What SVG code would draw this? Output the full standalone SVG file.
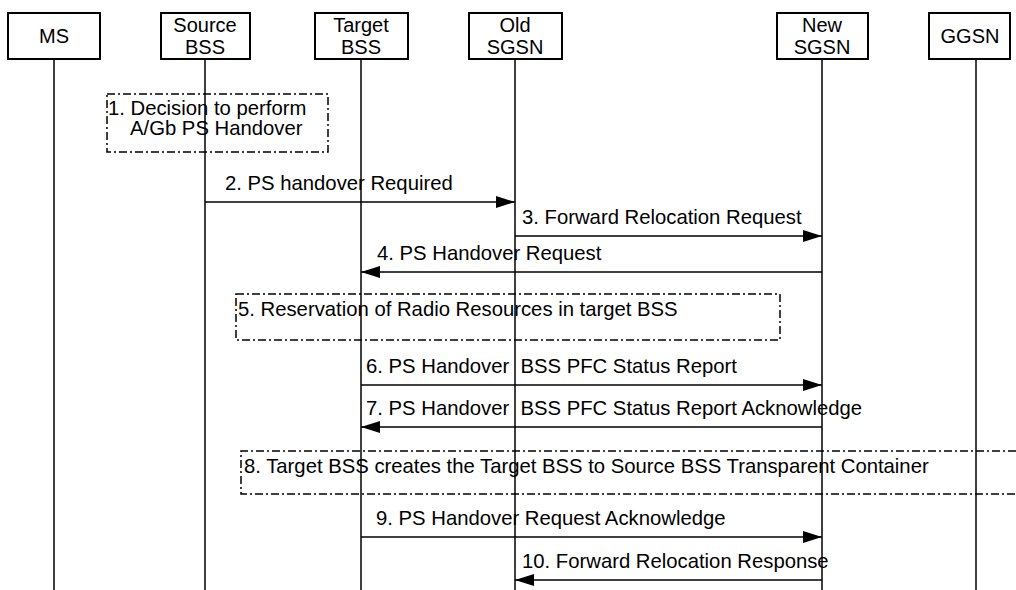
<svg xmlns="http://www.w3.org/2000/svg" width="1016" height="590" viewBox="0 0 1016 590">
<style>
text{font-family:"Liberation Sans",Arial,sans-serif;font-size:20.3px;fill:#000}
.hd{text-anchor:middle;font-size:20px}
.box{fill:#fff;stroke:#000;stroke-width:2}
.life{stroke:#000;stroke-width:1.5}
.msg{stroke:#000;stroke-width:1.5;fill:none;marker-end:url(#ah)}
.note{fill:none;stroke:#000;stroke-width:1.5;stroke-dasharray:8 3 2 3}
</style>
<defs>
<marker id="ah" viewBox="0 0 19 12" refX="19" refY="6" markerWidth="19" markerHeight="12" markerUnits="userSpaceOnUse" orient="auto">
<path d="M0,0 L19,6 L0,12 Z" fill="#000"/>
</marker>
</defs>
<g id="lifelines">
<line class="life" x1="54" y1="59" x2="54" y2="590"/>
<line class="life" x1="205" y1="59" x2="205" y2="590"/>
<line class="life" x1="361" y1="59" x2="361" y2="590"/>
<line class="life" x1="515" y1="59" x2="515" y2="590"/>
<line class="life" x1="822" y1="59" x2="822" y2="590"/>
<line class="life" x1="976" y1="59" x2="976" y2="590"/>
</g>
<g id="MS"><rect class="box" x="8" y="13" width="92" height="46"/><text class="hd" x="54" y="43">MS</text></g>
<g id="SourceBSS"><rect class="box" x="161" y="13" width="89" height="46"/><text class="hd" x="205" y="32">Source</text><text class="hd" x="205" y="54">BSS</text></g>
<g id="TargetBSS"><rect class="box" x="315" y="13" width="93" height="46"/><text class="hd" x="361" y="32">Target</text><text class="hd" x="361" y="54">BSS</text></g>
<g id="OldSGSN"><rect class="box" x="469" y="13" width="93" height="46"/><text class="hd" x="515" y="32">Old</text><text class="hd" x="515" y="54">SGSN</text></g>
<g id="NewSGSN"><rect class="box" x="777" y="13" width="91" height="46"/><text class="hd" x="822" y="32">New</text><text class="hd" x="822" y="54">SGSN</text></g>
<g id="GGSN"><rect class="box" x="929" y="13" width="81" height="46"/><text class="hd" x="970" y="43">GGSN</text></g>
<g id="step1"><rect class="note" x="107" y="94" width="221" height="58"/><text x="108" y="115">1. Decision to perform</text><text x="130" y="135">A/Gb PS Handover</text></g>
<g id="step5"><rect class="note" x="236" y="294" width="544" height="46"/><text x="238" y="316">5. Reservation of Radio Resources in target BSS</text></g>
<g id="step8"><path class="note" d="M1016,451 H241 V494 H1016"/><text x="244" y="473">8. Target BSS creates the Target BSS to Source BSS Transparent Container</text></g>
<g id="connectors">
<line class="msg" x1="205" y1="202" x2="515" y2="202"/>
<text x="225" y="190">2. PS handover Required</text>
<line class="msg" x1="515" y1="236" x2="822" y2="236"/>
<text x="522" y="224">3. Forward Relocation Request</text>
<line class="msg" x1="822" y1="272" x2="361" y2="272"/>
<text x="377" y="260">4. PS Handover Request</text>
<line class="msg" x1="361" y1="385" x2="822" y2="385"/>
<text x="366" y="373">6. PS Handover&#160; BSS PFC Status Report</text>
<line class="msg" x1="822" y1="427" x2="361" y2="427"/>
<text x="366" y="415">7. PS Handover&#160; BSS PFC Status Report Acknowledge</text>
<line class="msg" x1="361" y1="537" x2="822" y2="537"/>
<text x="376" y="525">9. PS Handover Request Acknowledge</text>
<line class="msg" x1="822" y1="580" x2="515" y2="580"/>
<text x="522" y="568">10. Forward Relocation Response</text>
</g>
</svg>
